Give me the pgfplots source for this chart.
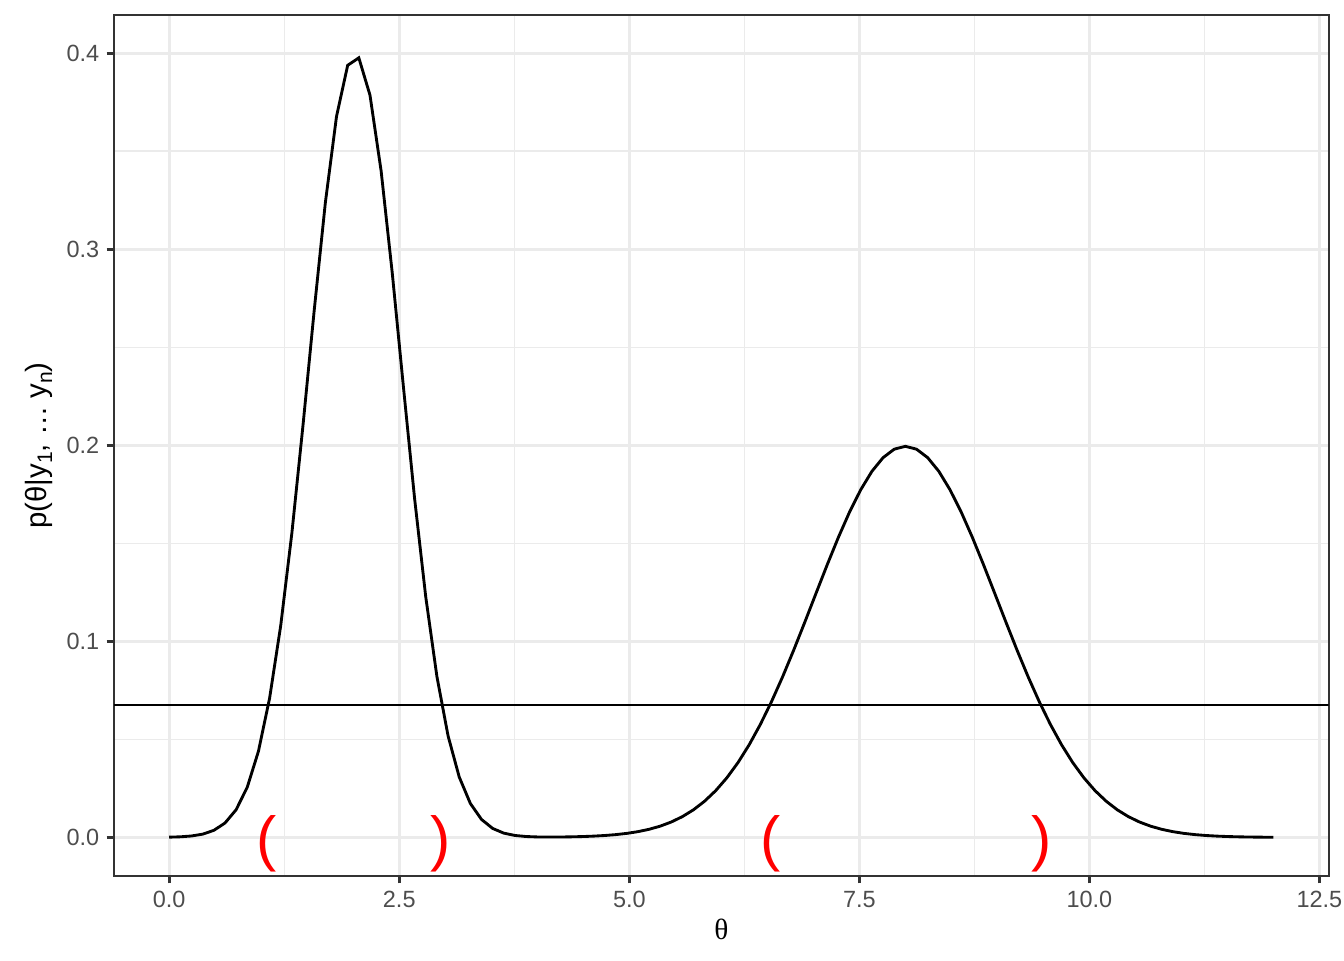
\documentclass[border=0pt]{standalone}
\usepackage{fontspec}
\setmainfont{Liberation Sans}
\newfontfamily\seriffont{Liberation Serif}
\usepackage{pgfplots}
\usepackage{pgfplotstable}
\pgfplotsset{compat=1.18}
\definecolor{gridc}{HTML}{EBEBEB}
\definecolor{grey20}{HTML}{333333}
\definecolor{grey30}{HTML}{4D4D4D}
\newcommand\sub[1]{\raisebox{-2.2pt}{\fontsize{7.9}{8}\selectfont #1}}

% density on a grid of 100 points from 0 to 12
\pgfplotstableread{
x y
0.0000 0.000114
0.1212 0.000295
0.2424 0.000718
0.3636 0.001651
0.4848 0.003580
0.6061 0.007320
0.7273 0.014108
0.8485 0.025644
0.9697 0.043924
1.0909 0.070971
1.2121 0.10814
1.3333 0.15535
1.4545 0.21045
1.5758 0.26885
1.6970 0.32380
1.8182 0.36774
1.9394 0.39379
2.0606 0.39763
2.1818 0.37859
2.3030 0.33989
2.4242 0.28774
2.5455 0.22965
2.6667 0.17284
2.7879 0.12266
2.9091 0.08208
3.0303 0.05181
3.1515 0.03082
3.2727 0.01729
3.3939 0.00915
3.5152 0.00456
3.6364 0.00216
3.7576 0.000977
3.8788 0.000439
4.0000 0.000224
4.1212 0.000166
4.2424 0.000192
4.3636 0.000275
4.4848 0.000414
4.6061 0.000629
4.7273 0.000942
4.8485 0.001390
4.9697 0.002022
5.0909 0.002900
5.2121 0.004095
5.3333 0.005697
5.4545 0.007813
5.5758 0.01057
5.6970 0.01406
5.8182 0.01846
5.9394 0.02387
6.0606 0.03042
6.1818 0.03820
6.3030 0.04727
6.4242 0.05764
6.5455 0.06926
6.6667 0.08200
6.7879 0.09569
6.9091 0.11002
7.0303 0.12465
7.1515 0.13917
7.2727 0.15312
7.3939 0.16601
7.5152 0.17735
7.6364 0.18671
7.7576 0.19369
7.8788 0.19801
8.0000 0.19947
8.1212 0.19801
8.2424 0.19369
8.3636 0.18671
8.4848 0.17735
8.6061 0.16601
8.7273 0.15312
8.8485 0.13917
8.9697 0.12465
9.0909 0.11002
9.2121 0.09569
9.3333 0.08200
9.4545 0.06926
9.5758 0.05764
9.6970 0.04727
9.8182 0.03820
9.9394 0.03042
10.0606 0.02387
10.1818 0.01846
10.3030 0.01406
10.4242 0.01057
10.5455 0.007813
10.6667 0.005697
10.7879 0.004095
10.9091 0.002900
11.0303 0.002022
11.1515 0.001390
11.2727 0.000942
11.3939 0.000629
11.5152 0.000414
11.6364 0.000268
11.7576 0.000171
11.8788 0.000108
12.0000 0.0000669
}\dens

\begin{document}
\begin{tikzpicture}
\useasboundingbox (0pt,0pt) rectangle (504pt,360pt);
\begin{axis}[
  at={(42.75pt,31.5pt)}, anchor=south west,
  scale only axis, width=455.5pt, height=322.9pt,
  xmin=-0.6, xmax=12.6, ymin=-0.0197, ymax=0.4195,
  xtick={0,2.5,5,7.5,10,12.5},
  minor xtick={1.25,3.75,6.25,8.75,11.25},
  ytick={0,0.1,0.2,0.3,0.4},
  minor ytick={0.05,0.15,0.25,0.35},
  grid=both,
  major grid style={color=gridc, line width=1.07pt},
  minor grid style={color=gridc, line width=0.53pt},
  minor tick length=0pt,
  major tick length=2.75pt,
  tick align=outside,
  xtick pos=bottom, ytick pos=left,
  tick style={grey20, line width=1.07pt},
  axis line style={grey20, line width=0.75pt},
  /pgf/number format/.cd, fixed, fixed zerofill, precision=1, assume math mode=true,
  /pgfplots/.cd,
  ticklabel style={font=\fontsize{8.8}{10}\selectfont, text=grey30},
  xticklabel style={inner sep=0pt, anchor=base, yshift=-9.1pt},
  yticklabel style={inner sep=0pt, anchor=east, xshift=-2.6pt},
  xlabel={\seriffont θ},
  ylabel={p(θ|y\sub{1}, … y\sub{n})},
  every axis x label/.style={at={(rel axis cs:0.5,0)}, anchor=center, yshift=-19.9pt, font=\fontsize{11}{13}\selectfont},
  every axis y label/.style={at={(rel axis cs:0,0.5)}, xshift=-22.9pt, rotate=90, anchor=south, inner sep=0pt, font=\fontsize{11}{13}\selectfont},
]
\addplot[black, line width=1.07pt] table {\dens};
\addplot[black, line width=1.07pt] coordinates {(-0.6,0.0675) (12.6,0.0675)};
\addplot[draw=none, mark=none, nodes near coords={(},
  every node near coord/.style={anchor=center, inner sep=0pt, text=red, font=\fontsize{22.76}{24}\selectfont}]
  coordinates {(1.06,-0.0032) (6.53,-0.0032)};
\addplot[draw=none, mark=none, nodes near coords={)},
  every node near coord/.style={anchor=center, inner sep=0pt, text=red, font=\fontsize{22.76}{24}\selectfont}]
  coordinates {(2.95,-0.0032) (9.48,-0.0032)};
\end{axis}
\end{tikzpicture}
\end{document}
